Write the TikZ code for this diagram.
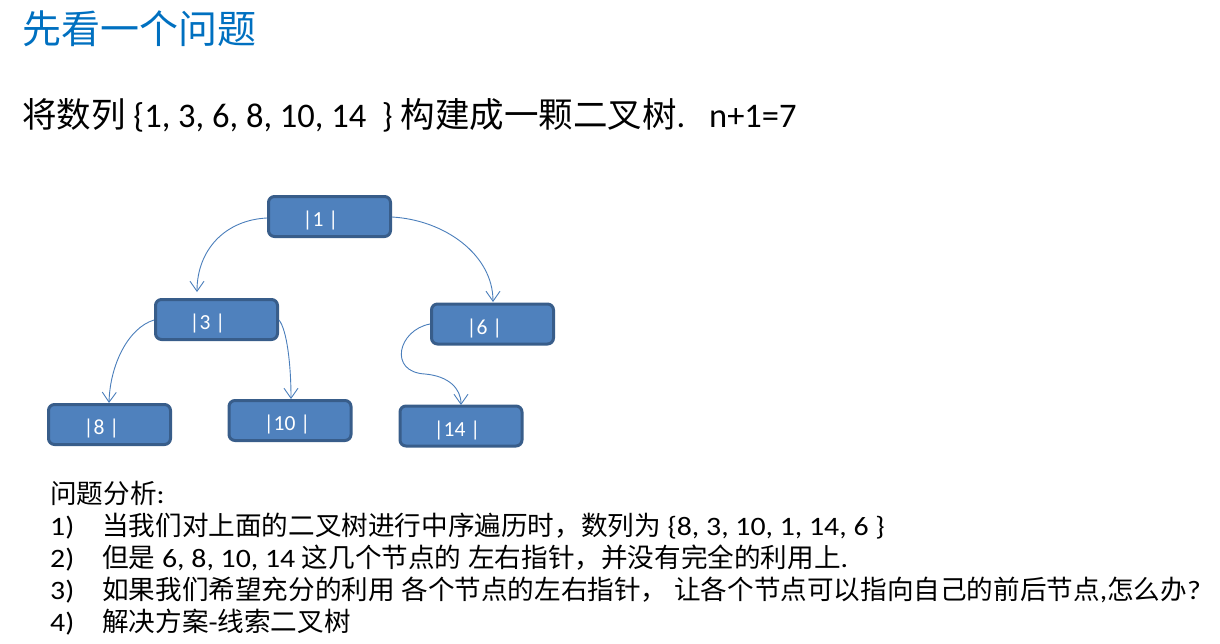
\documentclass[tikz,border=0pt]{standalone}
\usepackage{fontspec}
\setmainfont{Carlito}
\newfontfamily\wide[FakeStretch=1.12]{Carlito}
\newfontfamily\cjk{Noto Sans CJK SC}
\newcommand\zh[1]{{\cjk #1}}
\usetikzlibrary{arrows.meta,calc}
\definecolor{boxfill}{HTML}{4F81BD}
\definecolor{boxline}{HTML}{385D8A}
\definecolor{arrowc}{HTML}{4A7EBB}
\definecolor{titlec}{HTML}{0070C0}
\tikzset{
  treebox/.style={draw=boxline, fill=boxfill, line width=3pt, rounded corners=6pt,
    minimum width=122pt, minimum height=40pt, inner sep=0pt, text=white,
    font=\fontsize{21.5}{24}\selectfont},
  link/.style={draw=arrowc, line width=0.9pt, -{Straight Barb[length=10pt,width=14pt,line width=0.9pt]}},
  txt/.style={inner sep=0pt, anchor=base west},
  bodytext/.style={txt, font=\fontsize{26.6}{30}\selectfont\wide},
}
\newcommand\boxlabel[2]{\raisebox{-10pt}[0pt][0pt]{#1}\hspace*{#2}}
\begin{document}
\begin{tikzpicture}[x=1pt,y=-1pt]
\useasboundingbox (0,0) rectangle (1220,643);
% title
\node[txt, text=titlec, font=\fontsize{39}{44}\selectfont\cjk] (title) at (22,43) {先看一个问题};
\node[txt, font=\fontsize{34.5}{40}\selectfont] (line) at (22,127) {\zh{将数列} \{1, 3, 6, 8, 10, 14\ \ \} \zh{构建成一颗二叉树}.\hspace{24pt}n+1=7};
% tree
\node[treebox] (n1) at (329.5,216.5) {\boxlabel{|1 |}{18pt}};
\node[treebox] (n3) at (216.5,319.5) {\boxlabel{|3 |}{18pt}};
\node[treebox] (n6) at (492.5,324) {\boxlabel{|6 |}{16pt}};
\node[treebox] (n8) at (109.5,424.5) {\boxlabel{|8 |}{16pt}};
\node[treebox] (n10) at (290,420.5) {\boxlabel{|10 |}{6pt}};
\node[treebox] (n14) at (461,426) {\boxlabel{|14 |}{8pt}};
\coordinate (a1) at (197,292);
\coordinate (a6) at (493,302);
\coordinate (a8) at (109,403);
\coordinate (a10) at (291,399);
\coordinate (a14) at (461,405);
\coordinate (m14) at (425,374);
\path[link] ($(n1.west)+(0,1.5)$) .. controls (225,220) and (197,250) .. (a1);
\path[link] ($(n1.east)+(0,0.5)$) .. controls (445,220) and (493,255) .. (a6);
\path[link] ($(n3.west)+(0,0.5)$) .. controls (128,328) and (110,365) .. (a8);
\path[link] ($(n3.east)+(0,0.5)$) .. controls (287,330) and (291,365) .. (a10);
\path[link] (n6.west) .. controls (398,330) and (388,372) .. (m14) .. controls (448,376) and (461,388) .. (a14);
% analysis
\node[bodytext] (h) at (50,503) {\zh{问题分析}:};
\node[bodytext] (k1) at (50,535) {1)};
\node[bodytext] (k2) at (50,567) {2)};
\node[bodytext] (k3) at (50,599) {3)};
\node[bodytext] (k4) at (50,631) {4)};
\node[bodytext] (t1) at (102,535) {\zh{当我们对上面的二叉树进行中序遍历时，数列为} \{8, 3, 10, 1, 14, 6 \}};
\node[bodytext] (t2) at (102,567) {\zh{但是} 6, 8, 10, 14 \zh{这几个节点的} \zh{左右指针，并没有完全的利用上}.};
\node[bodytext] (t3) at (102,599) {\zh{如果我们希望充分的利用} \zh{各个节点的左右指针，} \zh{让各个节点可以指向自己的前后节点},\zh{怎么办}?};
\node[bodytext] (t4) at (102,631) {\zh{解决方案}-\zh{线索二叉树}};
\end{tikzpicture}
\end{document}
